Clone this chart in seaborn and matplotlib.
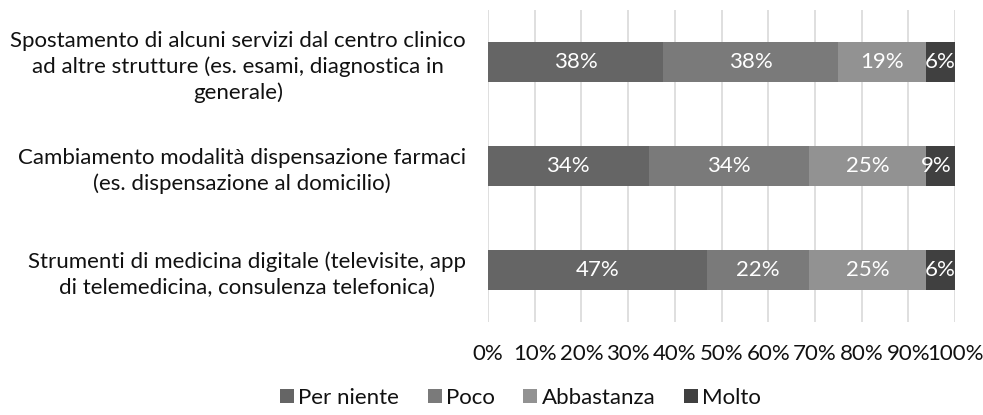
import numpy as np
import pandas as pd
import matplotlib
matplotlib.use("Agg")
import matplotlib.pyplot as plt
from matplotlib.lines import Line2D
import seaborn as sns

# ── data ──────────────────────────────────────────────────────────────────
categories = [
    "Spostamento di alcuni servizi dal centro clinico\nad altre strutture (es. esami, diagnostica in\ngenerale)",
    "Cambiamento modalità dispensazione farmaci\n(es. dispensazione al domicilio)",
    "Strumenti di medicina digitale (televisite, app\ndi telemedicina, consulenza telefonica)",
]
series = ["Per niente", "Poco", "Abbastanza", "Molto"]
per_niente = [37.5, 34.4, 46.9]
poco       = [37.5, 34.4, 21.9]
abbastanza = [18.75, 25.0, 25.0]
molto      = [6.25, 9.4, 6.25]
xticks = [0, 10, 20, 30, 40, 50, 60, 70, 80, 90, 100]

colors = {"Per niente": "#656565", "Poco": "#7a7a7a",
          "Abbastanza": "#929292", "Molto": "#404040"}

FS = 16

sns.set_theme(style="white")
plt.rcParams["font.family"] = ["Lato", "DejaVu Sans"]

df = pd.DataFrame({"cat": categories, "Per niente": per_niente, "Poco": poco,
                   "Abbastanza": abbastanza, "Molto": molto})
cum = df[series].cumsum(axis=1)

fig = plt.figure(figsize=(9.83, 4.15), dpi=100)
ax = fig.add_axes([488 / 983, 1 - 322 / 415, 467 / 983, 312 / 415])

# stacked bars: draw cumulative totals from the outermost segment inward
for s in reversed(series):
    sns.barplot(x=cum[s], y=df["cat"], orient="h", color=colors[s],
                width=0.39, linewidth=0, saturation=1, ax=ax, zorder=2)

for i in range(len(categories)):
    for s in series:
        v = df.loc[i, s]
        xc = min(cum.loc[i, s] - v / 2, 100 - v / 2 + 0.6)
        ax.text(xc, i, f"{v:.0f}%", ha="center", va="center",
                color="white", fontsize=FS, zorder=3)

ax.set_xlim(0, 100)
ax.set_ylim(2.5, -0.5)
ax.set_xticks(xticks)
ax.set_xticklabels([f"{t}%" for t in xticks], fontsize=FS, color="#111111")
ax.tick_params(axis="x", length=0, pad=16)
ax.tick_params(axis="y", length=0, pad=16)
for lab in ax.get_yticklabels():
    lab.set_multialignment("center")
    lab.set_fontsize(FS)
    lab.set_color("#111111")
    lab.set_linespacing(1.35)
ax.set_xlabel("")
ax.set_ylabel("")
ax.grid(axis="x", color="#d9d9d9", linewidth=1.2, zorder=0)
ax.set_axisbelow(True)
for sp in ax.spines.values():
    sp.set_visible(False)

handles = [Line2D([], [], marker="s", linestyle="", markersize=10,
                  markerfacecolor=colors[s], markeredgewidth=0) for s in series]
fig.legend(handles, series, loc="center", bbox_to_anchor=(519 / 983, 1 - 398 / 415),
           ncol=4, frameon=False, fontsize=FS, handletextpad=0.05,
           columnspacing=1.15, handlelength=0.9, labelcolor="#111111")

fig.savefig("out.png", dpi=100)
